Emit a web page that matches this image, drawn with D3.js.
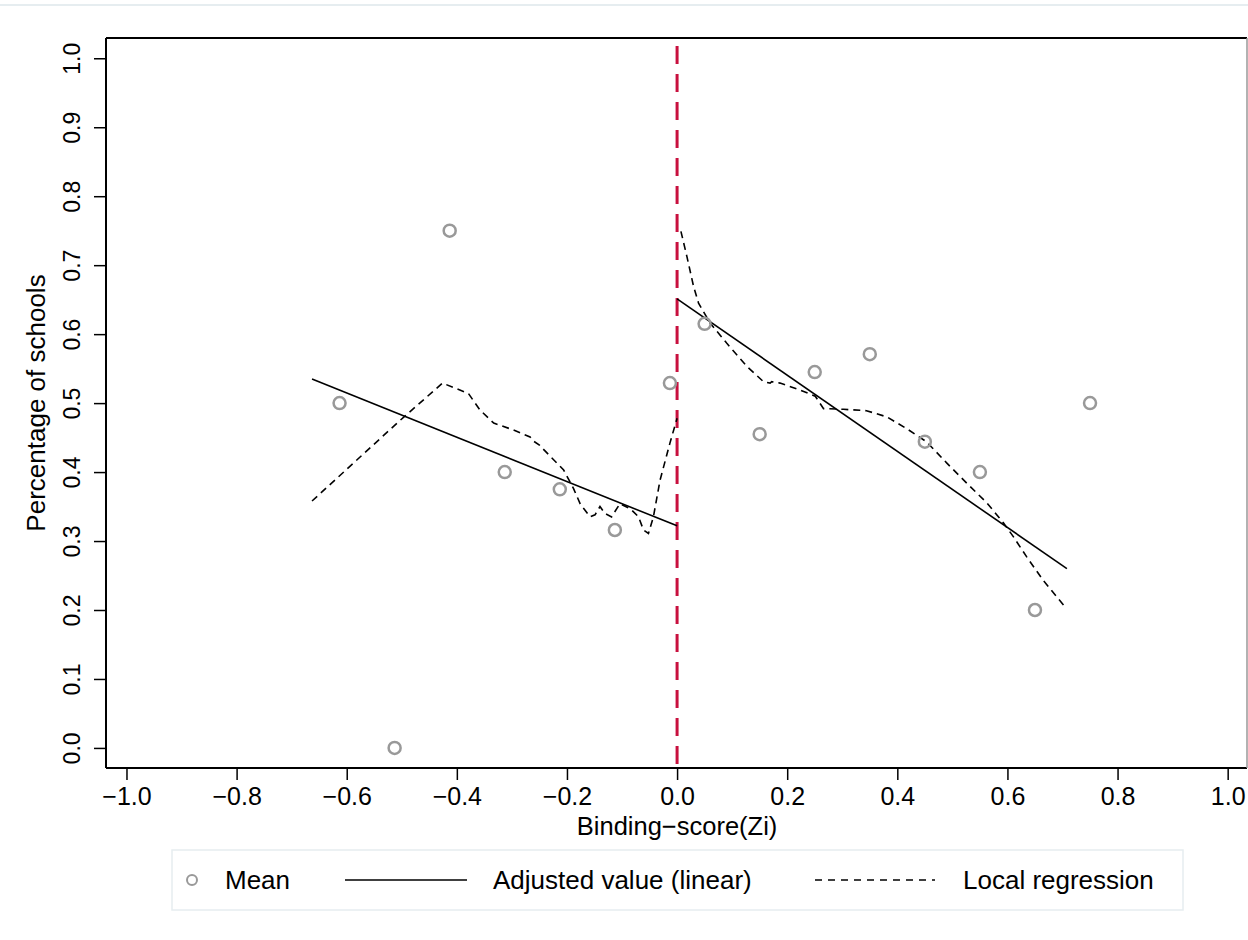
<!DOCTYPE html>
<html>

<head>
    <meta charset="utf-8">
    <style type="text/css">
        body {
            margin: 0;
            background-color: white;
        }

        text {
            font-family: "Liberation Sans", Arial, sans-serif;
            fill: #000;
        }
    </style>
</head>

<body>
    <svg width="1248" height="940"></svg>
    <script src="https://d3js.org/d3.v7.min.js"></script>
    <script>

        // bin means
        var meanX = [-0.613, -0.513, -0.413, -0.313, -0.213, -0.113, -0.013, 0.05, 0.15, 0.25, 0.35, 0.45, 0.55, 0.65, 0.75];
        var meanY = [0.50, 0.0, 0.75, 0.40, 0.375, 0.316, 0.529, 0.615, 0.455, 0.545, 0.571, 0.444, 0.40, 0.20, 0.50];

        // linear fit, each side of the cutoff
        var linLeftX = [-0.663, 0.0];
        var linLeftY = [0.535, 0.322];
        var linRightX = [0.0, 0.708];
        var linRightY = [0.651, 0.260];

        // local regression, left side
        var lowLeftX = [-0.663, -0.503, -0.426, -0.379, -0.358, -0.333, -0.297, -0.267, -0.261, -0.25, -0.206, -0.188, -0.176, -0.158, -0.149, -0.140, -0.131, -0.119, -0.104, -0.085, -0.070, -0.061, -0.052, -0.043, -0.031, -0.013, 0.0];
        var lowLeftY = [0.358, 0.475, 0.529, 0.514, 0.490, 0.471, 0.461, 0.451, 0.445, 0.439, 0.403, 0.376, 0.354, 0.335, 0.338, 0.350, 0.340, 0.335, 0.354, 0.347, 0.335, 0.316, 0.311, 0.335, 0.388, 0.442, 0.478];

        // local regression, right side
        var lowRightX = [0.007, 0.018, 0.030, 0.039, 0.060, 0.090, 0.127, 0.157, 0.169, 0.172, 0.187, 0.223, 0.251, 0.266, 0.302, 0.344, 0.381, 0.417, 0.453, 0.490, 0.526, 0.563, 0.593, 0.611, 0.635, 0.665, 0.702];
        var lowRightY = [0.749, 0.712, 0.669, 0.645, 0.616, 0.587, 0.553, 0.531, 0.529, 0.531, 0.529, 0.519, 0.510, 0.492, 0.491, 0.489, 0.480, 0.463, 0.444, 0.413, 0.384, 0.355, 0.326, 0.306, 0.277, 0.243, 0.207];

        var xTicks = [-1.0, -0.8, -0.6, -0.4, -0.2, 0.0, 0.2, 0.4, 0.6, 0.8, 1.0];
        var yTicks = [0.0, 0.1, 0.2, 0.3, 0.4, 0.5, 0.6, 0.7, 0.8, 0.9, 1.0];
        var legendLabels = ["Mean", "Adjusted value (linear)", "Local regression"];

        var svg = d3.select("svg"),
            plot = {left: 106, right: 1247, top: 38, bottom: 768};

        var x = d3.scaleLinear().domain([-1.0372, 1.0351]).range([plot.left, plot.right]);
        var y = d3.scaleLinear().domain([-0.0291, 1.0294]).range([plot.bottom, plot.top]);

        function zip(xs, ys) {
            return xs.map(function (v, i) { return [v, ys[i]]; });
        }

        var line = d3.line().x(function (d) { return x(d[0]); }).y(function (d) { return y(d[1]); });

        // faint outer border line at top
        svg.append("line").attr("x1", 0).attr("x2", 1248).attr("y1", 5).attr("y2", 5)
            .attr("stroke", "#e6edf0").attr("stroke-width", 2);

        // axes
        var xAxis = svg.append("g").attr("transform", "translate(0," + plot.bottom + ")")
            .call(d3.axisBottom(x).tickValues(xTicks).tickSize(12).tickPadding(7)
                .tickFormat(d3.format(".1f")));
        xAxis.select(".domain").remove();
        xAxis.selectAll("line").attr("stroke", "#000").attr("stroke-width", 1.5);
        xAxis.selectAll("text").style("font-size", "25px");

        var yAxis = svg.append("g").attr("transform", "translate(" + plot.left + ",0)")
            .call(d3.axisLeft(y).tickValues(yTicks).tickSize(12).tickFormat(d3.format(".1f")));
        yAxis.select(".domain").remove();
        yAxis.selectAll("line").attr("stroke", "#000").attr("stroke-width", 1.5);
        yAxis.selectAll("text")
            .attr("x", null).attr("dy", null)
            .attr("transform", "translate(-26,0) rotate(-90)")
            .attr("text-anchor", "middle")
            .style("font-size", "23px");

        // plot frame
        svg.append("line").attr("x1", plot.left).attr("x2", plot.right).attr("y1", plot.top).attr("y2", plot.top)
            .attr("stroke", "#000").attr("stroke-width", 2);
        svg.append("line").attr("x1", plot.left).attr("x2", plot.left).attr("y1", plot.top).attr("y2", plot.bottom)
            .attr("stroke", "#000").attr("stroke-width", 2);
        svg.append("line").attr("x1", plot.left).attr("x2", plot.right).attr("y1", plot.bottom).attr("y2", plot.bottom)
            .attr("stroke", "#000").attr("stroke-width", 2);
        svg.append("line").attr("x1", plot.right).attr("x2", plot.right).attr("y1", plot.top).attr("y2", plot.bottom)
            .attr("stroke", "#999").attr("stroke-width", 1.5);

        // axis titles
        svg.append("text").attr("x", x(0)).attr("y", 835).attr("text-anchor", "middle")
            .style("font-size", "25.5px").text("Binding\u2212score(Zi)");
        svg.append("text").attr("transform", "translate(45," + (plot.top + plot.bottom) / 2 + ") rotate(-90)")
            .attr("text-anchor", "middle").style("font-size", "26px").text("Percentage of schools");

        // cutoff
        svg.append("line").attr("x1", x(0)).attr("x2", x(0)).attr("y1", plot.top + 8).attr("y2", plot.bottom)
            .attr("stroke", "#c8103e").attr("stroke-width", 3).attr("stroke-dasharray", "18,10");

        // fits
        [zip(linLeftX, linLeftY), zip(linRightX, linRightY)].forEach(function (seg) {
            svg.append("path").datum(seg).attr("fill", "none").attr("stroke", "#000")
                .attr("stroke-width", 1.6).attr("d", line);
        });
        [zip(lowLeftX, lowLeftY), zip(lowRightX, lowRightY)].forEach(function (seg) {
            svg.append("path").datum(seg).attr("fill", "none").attr("stroke", "#000")
                .attr("stroke-width", 1.6).attr("stroke-dasharray", "7,5").attr("d", line);
        });

        // means
        svg.selectAll("circle.mean").data(zip(meanX, meanY)).enter().append("circle")
            .attr("class", "mean")
            .attr("cx", function (d) { return x(d[0]); })
            .attr("cy", function (d) { return y(d[1]); })
            .attr("r", 6)
            .attr("fill", "none").attr("stroke", "#999").attr("stroke-width", 2.5);

        // legend
        var lg = svg.append("g");
        lg.append("rect").attr("x", 172).attr("y", 850).attr("width", 1011).attr("height", 60)
            .attr("fill", "white").attr("stroke", "#e6edf0").attr("stroke-width", 1.5);
        lg.append("circle").attr("cx", 192).attr("cy", 880).attr("r", 5)
            .attr("fill", "none").attr("stroke", "#999").attr("stroke-width", 2);
        lg.append("text").attr("x", 225).attr("y", 889).style("font-size", "26px").text(legendLabels[0]);
        lg.append("line").attr("x1", 345).attr("x2", 467).attr("y1", 880).attr("y2", 880)
            .attr("stroke", "#000").attr("stroke-width", 1.6);
        lg.append("text").attr("x", 493).attr("y", 889).style("font-size", "26px").text(legendLabels[1]);
        lg.append("line").attr("x1", 815).attr("x2", 935).attr("y1", 880).attr("y2", 880)
            .attr("stroke", "#000").attr("stroke-width", 1.6).attr("stroke-dasharray", "7,6");
        lg.append("text").attr("x", 963).attr("y", 889).style("font-size", "26px").text(legendLabels[2]);

    </script>
</body>

</html>
